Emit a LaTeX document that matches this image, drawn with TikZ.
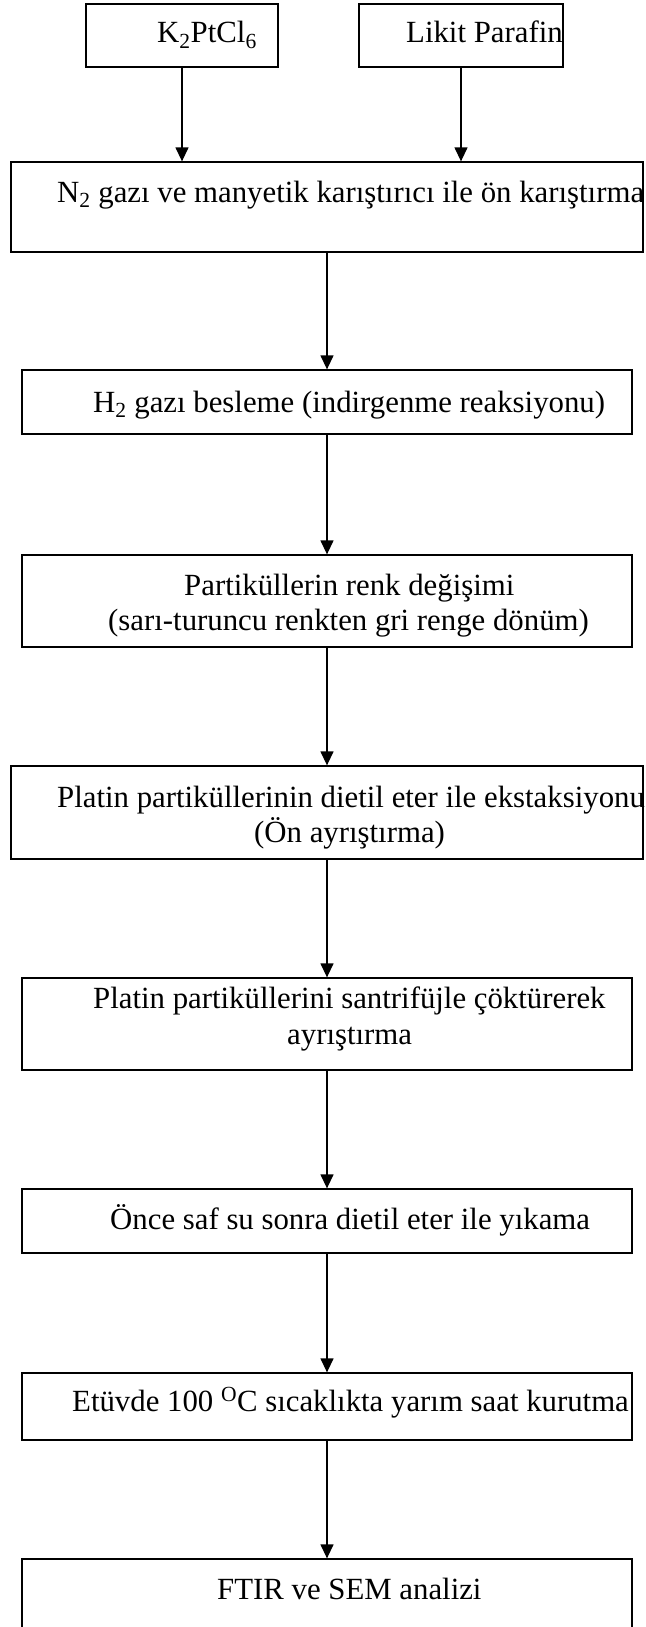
\documentclass[tikz,border=0pt]{standalone}
\usepackage{fontspec}
\setmainfont{Liberation Serif}
\usetikzlibrary{positioning,arrows.meta}

\begin{document}
\begin{tikzpicture}[x=1pt, y=-1pt, font=\fontsize{30.8}{36}\selectfont,
  box/.style={draw, line width=1.3pt, rectangle, inner sep=0pt},
  lbl/.style={anchor=base west, inner sep=0pt},
  arr/.style={-{Triangle[length=14pt,width=13pt]}, line width=1.3pt}]
\useasboundingbox (0,0) rectangle (645,1627);

% boxes
\node[box, minimum width=192pt, minimum height=63pt] (k2) at (182,35.5) {};
\node[box, minimum width=204pt, minimum height=63pt] (likit) at (461,35.5) {};
\node[box, minimum width=632pt, minimum height=90pt] (n2) at (327,207) {};
\node[box, minimum width=610pt, minimum height=64pt] (h2) at (327,402) {};
\node[box, minimum width=610pt, minimum height=92pt] (renk) at (327,601) {};
\node[box, minimum width=632pt, minimum height=93pt] (ekst) at (327,812.5) {};
\node[box, minimum width=610pt, minimum height=92pt] (santr) at (327,1024) {};
\node[box, minimum width=610pt, minimum height=64pt] (yikama) at (327,1221) {};
\node[box, minimum width=610pt, minimum height=67pt] (kurutma) at (327,1406.5) {};
\node[box, minimum width=610pt, minimum height=82pt] (analiz) at (327,1600) {};

% texts
\node[lbl] (tk2) at (157,43) {K\textsubscript{2}PtCl\textsubscript{6}};
\node[lbl] (tlikit) at (406,43) {Likit Parafin};
\node[lbl] (tn2) at (57,202) {N\textsubscript{2} gazı ve manyetik karıştırıcı ile ön karıştırma};
\node[lbl] (th2) at (93,412) {H\textsubscript{2} gazı besleme (indirgenme reaksiyonu)};
\node[lbl] (trenka) at (184,595) {Partiküllerin renk değişimi};
\node[lbl] (trenkb) at (108,630) {(sarı-turuncu renkten gri renge dönüm)};
\node[lbl] (teksta) at (57,807) {Platin partiküllerinin dietil eter ile ekstaksiyonu};
\node[lbl] (tekstb) at (254,842) {(Ön ayrıştırma)};
\node[lbl] (tsantra) at (93,1008) {Platin partiküllerini santrifüjle çöktürerek};
\node[lbl] (tsantrb) at (287,1044) {ayrıştırma};
\node[lbl] (tyikama) at (110,1229) {Önce saf su sonra dietil eter ile yıkama};
\node[lbl] (tkurutma) at (72,1411) {Etüvde 100 \textsuperscript{O}C sıcaklıkta yarım saat kurutma};
\node[lbl] (tanaliz) at (217,1599) {FTIR ve SEM analizi};

% arrows
\draw[arr] (k2.south) -- (k2.south |- n2.north);
\draw[arr] (likit.south) -- (likit.south |- n2.north);
\draw[arr] (n2.south) -- (h2.north);
\draw[arr] (h2.south) -- (renk.north);
\draw[arr] (renk.south) -- (ekst.north);
\draw[arr] (ekst.south) -- (santr.north);
\draw[arr] (santr.south) -- (yikama.north);
\draw[arr] (yikama.south) -- (kurutma.north);
\draw[arr] (kurutma.south) -- (analiz.north);
\end{tikzpicture}
\end{document}
